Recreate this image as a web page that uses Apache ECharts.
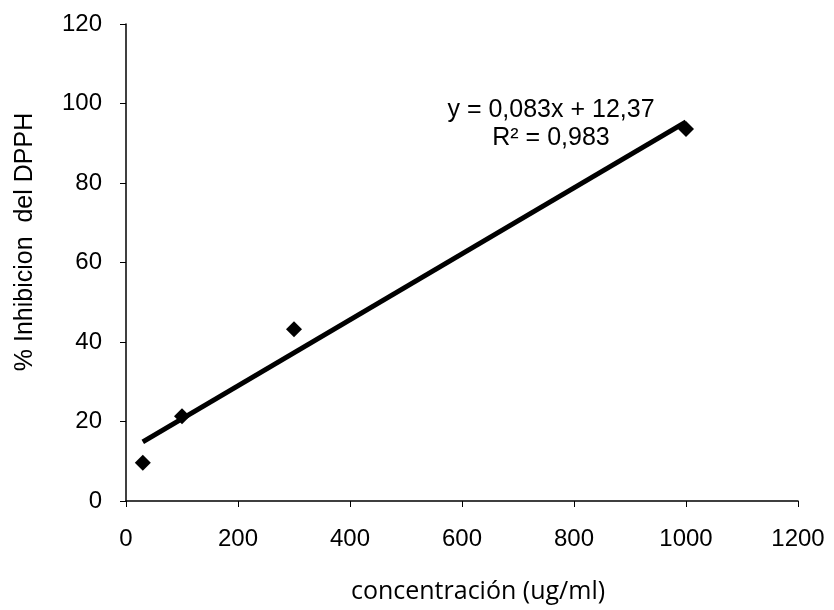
<!DOCTYPE html>
<html>
<head>
<meta charset="utf-8">
<script src="https://cdn.jsdelivr.net/npm/echarts@6/dist/echarts.min.js"></script>
<style>
  html, body { margin: 0; padding: 0; background: #fff; }
  #chart { width: 834px; height: 610px; }
</style>
</head>
<body>
<div id="chart"></div>
<script>
// datos medidos
var concentracion = [30, 100, 300, 1000];
var inhibicion = [9.6, 21.3, 43.2, 93.6];

// linea de tendencia y = 0,083x + 12,37
var pendiente = 0.083;
var intercepto = 12.37;
var tendenciaX = [30, 1000];
var etiquetaEc = 'y = 0,083x + 12,37';
var etiquetaR2 = 'R² = 0,983';

var puntos = concentracion.map(function (x, i) { return [x, inhibicion[i]]; });
var tendencia = tendenciaX.map(function (x) { return [x, pendiente * x + intercepto]; });

var chart = echarts.init(document.getElementById('chart'));

var fuente = 'Liberation Sans';

var option = {
  backgroundColor: '#fff',
  animation: false,
  grid: { left: 126, right: 36, top: 24, bottom: 109 },
  xAxis: {
    type: 'value',
    min: 0, max: 1200, interval: 200,
    axisLine: { show: true, lineStyle: { color: '#000', width: 1.5 } },
    axisTick: { show: true, length: 6, lineStyle: { color: '#000' } },
    axisLabel: {
      margin: 26, fontFamily: fuente, fontSize: 24, color: '#000',
      formatter: function (v) { return String(v); }
    },
    splitLine: { show: false }
  },
  yAxis: {
    type: 'value',
    min: 0, max: 120, interval: 20,
    axisLine: { show: true, lineStyle: { color: '#000', width: 1.5 } },
    axisTick: { show: true, length: 6, lineStyle: { color: '#000' } },
    axisLabel: { margin: 24, fontFamily: fuente, fontSize: 24, color: '#000' },
    splitLine: { show: false }
  },
  graphic: [
    {
      type: 'text',
      x: 25, y: 242,
      rotation: Math.PI / 2,
      style: {
        text: '% Inhibicion  del DPPH',
        fontFamily: fuente, fontSize: 25, fill: '#000',
        align: 'center', verticalAlign: 'middle'
      }
    },
    {
      type: 'text',
      x: 478, y: 592,
      style: {
        text: 'concentración (ug/ml)',
        fontFamily: 'Open Sans', fontSize: 25, fill: '#000',
        align: 'center', verticalAlign: 'middle'
      }
    },
    {
      type: 'text',
      x: 551, y: 110,
      style: {
        text: etiquetaEc,
        fontFamily: fuente, fontSize: 25, fill: '#000',
        align: 'center', verticalAlign: 'middle'
      }
    },
    {
      type: 'text',
      x: 551, y: 138,
      style: {
        text: etiquetaR2,
        fontFamily: fuente, fontSize: 25, fill: '#000',
        align: 'center', verticalAlign: 'middle'
      }
    }
  ],
  series: [
    {
      name: 'tendencia',
      type: 'line',
      data: tendencia,
      symbol: 'none',
      lineStyle: { color: '#000', width: 5 },
      z: 2
    },
    {
      name: 'datos',
      type: 'scatter',
      data: puntos,
      symbol: 'diamond',
      symbolSize: [16, 16],
      itemStyle: { color: '#000', opacity: 1 },
      z: 3
    }
  ]
};

chart.setOption(option);
</script>
</body>
</html>
